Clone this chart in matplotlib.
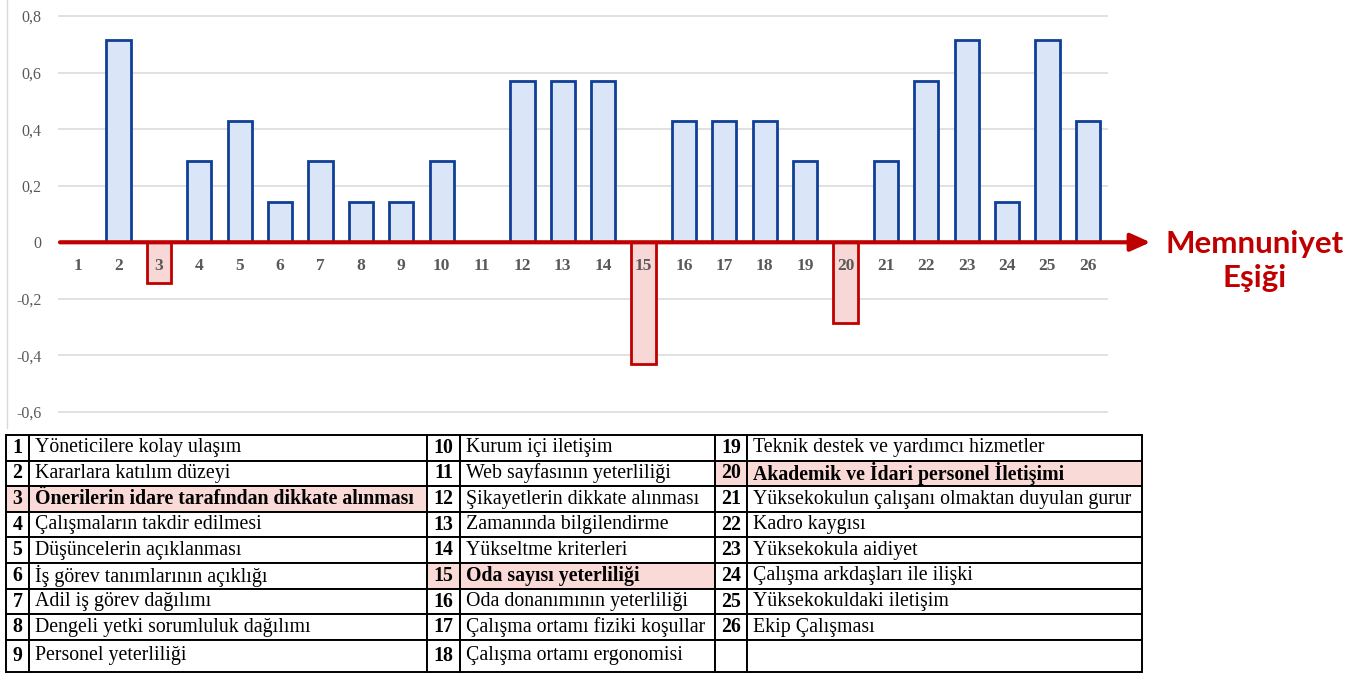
import matplotlib
matplotlib.use("Agg")
import matplotlib.pyplot as plt
from matplotlib.ticker import FuncFormatter
from matplotlib.lines import Line2D

plt.rcParams["font.family"] = ["Liberation Serif", "DejaVu Serif"]

# Madde numaraları ve memnuniyet farkı
kategoriler = list(range(1, 27))
degerler = [0, 0.714, -0.143, 0.286, 0.429, 0.143, 0.286, 0.143, 0.143, 0.286,
            0, 0.571, 0.571, 0.571, -0.429, 0.429, 0.429, 0.429, 0.286, -0.286,
            0.286, 0.571, 0.714, 0.143, 0.714, 0.429]
y_ticks = [-0.6, -0.4, -0.2, 0, 0.2, 0.4, 0.6, 0.8]

maddeler = [
    "Yöneticilere kolay ulaşım",
    "Kararlara katılım düzeyi",
    "Önerilerin idare tarafından dikkate alınması",
    "Çalışmaların takdir edilmesi",
    "Düşüncelerin açıklanması",
    "İş görev tanımlarının açıklığı",
    "Adil iş görev dağılımı",
    "Dengeli yetki sorumluluk dağılımı",
    "Personel yeterliliği",
    "Kurum içi iletişim",
    "Web sayfasının yeterliliği",
    "Şikayetlerin dikkate alınması",
    "Zamanında bilgilendirme",
    "Yükseltme kriterleri",
    "Oda sayısı yeterliliği",
    "Oda donanımının yeterliliği",
    "Çalışma ortamı fiziki koşullar",
    "Çalışma ortamı ergonomisi",
    "Teknik destek ve yardımcı hizmetler",
    "Akademik ve İdari personel İletişimi",
    "Yüksekokulun çalışanı olmaktan duyulan gurur",
    "Kadro kaygısı",
    "Yüksekokula aidiyet",
    "Çalışma arkdaşları ile ilişki",
    "Yüksekokuldaki iletişim",
    "Ekip Çalışması",
]

W, H = 1355, 673
fig = plt.figure(figsize=(W / 100, H / 100), dpi=100)

# grafik alanı (piksel olarak yerleşim)
top_px, bot_px = 13.2, 414.8
ax = fig.add_axes([58 / W, (H - bot_px) / H, 1050 / W, (bot_px - top_px) / H])
ax.set_xlim(0.5, 26.5)
ax.set_ylim(-0.61, 0.81)

mavi_kenar, mavi_dolgu = "#0F3F96", "#DAE6F8"
kirmizi_kenar, kirmizi_dolgu = "#C00000", "#F8D7D7"
kenarlar = [kirmizi_kenar if v < 0 else mavi_kenar for v in degerler]
dolgular = [kirmizi_dolgu if v < 0 else mavi_dolgu for v in degerler]
ax.bar(kategoriler, degerler, width=0.6, color=dolgular, edgecolor=kenarlar,
       linewidth=2, zorder=2)

ax.set_axisbelow(True)
ax.yaxis.grid(True, color="#D9D9D9", linewidth=1.1)
ax.set_yticks(y_ticks)
ax.yaxis.set_major_formatter(FuncFormatter(
    lambda v, p: "0" if abs(v) < 1e-9 else f"{v:.1f}".replace(".", ",")))
ax.tick_params(axis="y", length=0, pad=12, labelsize=11.5, labelcolor="#595959")

# kategori etiketleri sıfır çizgisinin altında
ax.spines["bottom"].set_position(("data", 0))
ax.set_xticks(kategoriler)
ax.set_xticklabels([str(k) for k in kategoriler], fontweight="bold")
ax.tick_params(axis="x", length=0, pad=11, labelsize=12.5, labelcolor="#595959")
ax.xaxis.set_zorder(4)
for s in ax.spines.values():
    s.set_visible(False)

# memnuniyet eşiği oku
ax.annotate("", xy=(27.55, 0), xytext=(0.55, 0), annotation_clip=False,
            arrowprops=dict(arrowstyle="-|>,head_length=0.6,head_width=0.27",
                            mutation_scale=20, color=kirmizi_kenar, lw=3,
                            shrinkA=0, shrinkB=0), zorder=3)
fig.text(1255 / W, 1 - 261 / H, "Memnuniyet\nEşiği", ha="center", va="center",
         multialignment="center", color=kirmizi_kenar, fontsize=22.5,
         fontweight="bold", family="Lato", linespacing=1.28)

fig.add_artist(Line2D([7 / W, 7 / W], [1, 1 - 428 / H], color="#D9D9D9", lw=1))

# açıklama tablosu
nrow = 9
cell_text = []
for r in range(nrow):
    row = []
    for g in range(3):
        i = g * nrow + r
        if i < len(maddeler):
            row += [str(kategoriler[i]), maddeler[i]]
        else:
            row += ["", ""]
    cell_text.append(row)

tab_ax = fig.add_axes([6 / W, (H - 672) / H, (1142 - 6) / W, (672 - 435) / H])
tab_ax.axis("off")
tbl = tab_ax.table(cellText=cell_text, cellLoc="left", bbox=[0, 0, 1, 1])
tbl.auto_set_font_size(False)
col_w = [23, 398, 33, 255, 32, 395]
row_h = [25.6] * 8 + [32]
for (r, c), cell in tbl.get_celld().items():
    cell.set_width(col_w[c])
    cell.set_height(row_h[r])
    cell.set_linewidth(1.4)
    cell.set_edgecolor("black")
    i = (c // 2) * nrow + r
    vurgulu = i < len(degerler) and degerler[i] < 0
    txt = cell.get_text()
    txt.set_fontfamily(["Liberation Serif", "DejaVu Serif"])
    txt.set_fontsize(14.3)
    if c % 2 == 0:
        txt.set_ha("center")
        txt.set_fontweight("bold")
    else:
        cell.PAD = 6 / col_w[c]
        if vurgulu:
            txt.set_fontweight("bold")
    if vurgulu:
        cell.set_facecolor("#F9DAD7")

fig.savefig("out.png", dpi=100)
